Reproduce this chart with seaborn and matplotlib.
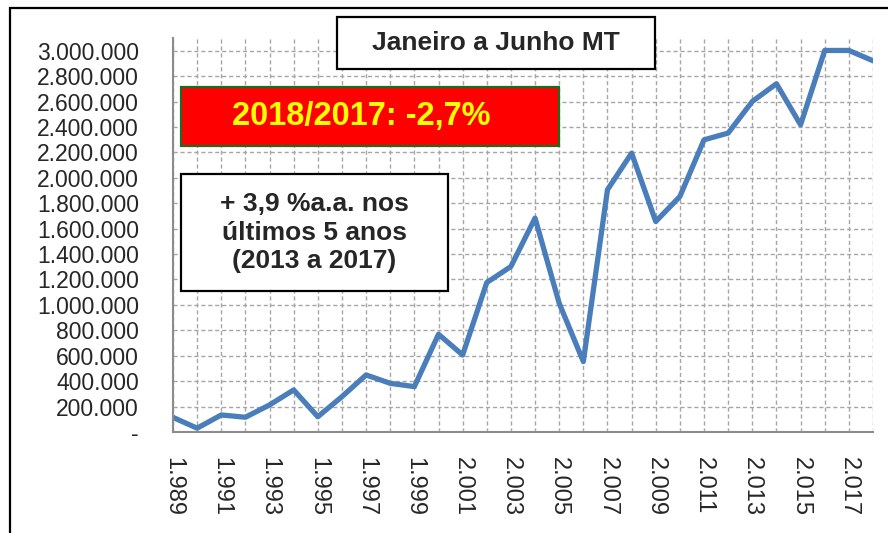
import matplotlib
matplotlib.use("Agg")
import matplotlib.pyplot as plt
import matplotlib.patches as mpatches
import matplotlib.transforms as mtransforms
import seaborn as sns
import pandas as pd
import numpy as np

# Janeiro a Junho, MT
years = list(range(1989, 2019))
values = [115000, 30000, 134000, 116000, 213000, 331000, 120000, 278000, 449000, 383000,
          357000, 769000, 606000, 1176000, 1302000, 1683000, 1013000, 554000, 1906000, 2194000,
          1656000, 1853000, 2299000, 2352000, 2601000, 2740000, 2417000, 3002000, 3002000, 2921000]

y_ticks = list(range(0, 3000001, 200000))

title_text = "Janeiro a Junho MT"
var_text = "2018/2017: -2,7%"
cagr_text = "+ 3,9 %a.a. nos\núltimos 5 anos\n(2013 a 2017)"

df = pd.DataFrame({"ano": years, "valor": values})

sns.set_style("white")
plt.rcParams["font.family"] = ["Liberation Sans", "DejaVu Sans"]

fig = plt.figure(figsize=(8.88, 5.33), dpi=100)
ax = fig.add_axes([0.1948, 0.1895, 0.7883, 0.7392])

sns.lineplot(data=df, x="ano", y="valor", ax=ax, color="#4A7EBB", linewidth=3.8)

ax.set_xlim(1989, 2018)
ax.set_ylim(0, 3100000)
ax.set_yticks(y_ticks)
ax.set_yticklabels(["-" if v == 0 else f"{v:,}".replace(",", ".") for v in y_ticks], fontsize=16.5)
ax.set_xticks(years)
ax.set_xticklabels([f"{y:,}".replace(",", ".") if y % 2 == 1 else "" for y in years],
                   rotation=-90, fontsize=17)
ax.set_xlabel("")
ax.set_ylabel("")

# rotulos do eixo x um pouco a esquerda do tick, como no original
shift = mtransforms.ScaledTranslation(-5 / 100, 0, fig.dpi_scale_trans)
for lbl in ax.get_xticklabels():
    lbl.set_transform(lbl.get_transform() + shift)

ax.grid(True, color="#A6A6A6", linestyle=(0, (3, 2)), linewidth=1)
for s in ["top", "right"]:
    ax.spines[s].set_visible(False)
for s in ["left", "bottom"]:
    ax.spines[s].set_color("#8C8C8C")
    ax.spines[s].set_linewidth(1.5)
ax.tick_params(axis="y", direction="inout", length=9, width=1.2, color="#8C8C8C", pad=20)
ax.tick_params(axis="x", direction="out", length=7, width=1.2, color="#8C8C8C", pad=11)

# caixas de texto
W, H = 888, 533
def box(x0, y0, x1, y1, face, edge):
    r = mpatches.Rectangle((x0 / W, 1 - y1 / H), (x1 - x0) / W, (y1 - y0) / H,
                           transform=fig.transFigure, facecolor=face, edgecolor=edge,
                           linewidth=1.6, zorder=5)
    fig.add_artist(r)
    return ((x0 + x1) / 2 / W, 1 - (y0 + y1) / 2 / H)

cx, cy = box(337, 17, 655, 69, "white", "black")
fig.text(cx, cy, title_text, ha="center", va="center", fontsize=19, fontweight="bold", zorder=6)

cx, cy = box(181, 87, 559, 146, "#FF0000", "#1E6B1E")
fig.text(cx - 0.01, cy, var_text, ha="center", va="center", fontsize=23.5, fontweight="bold",
         color="#FFFF00", zorder=6)

cx, cy = box(181, 174, 448, 291, "white", "black")
fig.text(cx, cy, cagr_text, ha="center", va="center", fontsize=19, fontweight="bold",
         linespacing=1.24, zorder=6)

# borda externa do grafico
fig.add_artist(mpatches.Rectangle((10 / W, -0.05), 1.2, 1 - 8 / H + 0.05, transform=fig.transFigure,
                                  fill=False, edgecolor="black", linewidth=1.6))

fig.savefig("out.png", dpi=100)
